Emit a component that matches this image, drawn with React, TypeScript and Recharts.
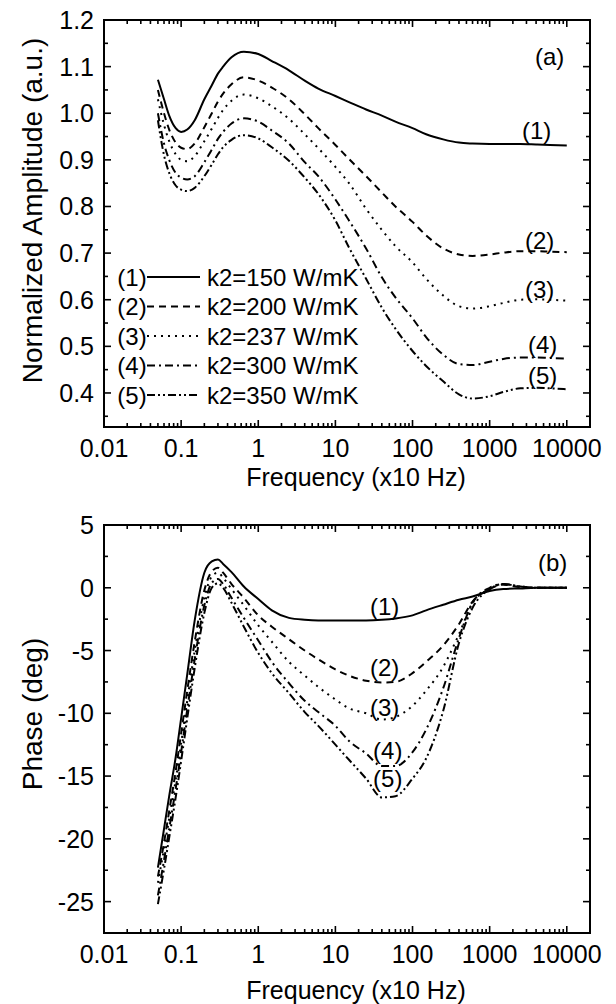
import React from "react";
import { ComposedChart, Line, Scatter, XAxis, YAxis, ReferenceLine, Legend } from "recharts";

const FONT = "'Liberation Sans', Arial, Helvetica, sans-serif";

// frequency in units of x10 Hz
const freq = [0.05, 0.06, 0.07, 0.085, 0.1, 0.12, 0.15, 0.2, 0.25, 0.3, 0.35, 0.45, 0.65, 1, 1.5, 2.5, 4, 6, 10, 15, 25, 40, 60, 100, 150, 250, 400, 600, 1000, 1500, 2500, 4000, 6000, 10000];

// (a) normalized amplitude
const ampK150 = [1.072, 1.03, 0.995, 0.968, 0.96, 0.965, 0.985, 1.03, 1.06, 1.085, 1.1, 1.12, 1.132, 1.127, 1.112, 1.092, 1.07, 1.053, 1.037, 1.024, 1.008, 0.995, 0.982, 0.968, 0.955, 0.944, 0.937, 0.935, 0.934, 0.934, 0.934, 0.933, 0.932, 0.931];
const ampK200 = [1.05, 1.0, 0.965, 0.937, 0.926, 0.923, 0.935, 0.97, 1.0, 1.025, 1.042, 1.062, 1.077, 1.07, 1.055, 1.03, 0.998, 0.968, 0.932, 0.902, 0.865, 0.83, 0.8, 0.767, 0.738, 0.71, 0.697, 0.694, 0.697, 0.701, 0.704, 0.704, 0.703, 0.702];
const ampK237 = [1.03, 0.975, 0.94, 0.912, 0.9, 0.897, 0.908, 0.94, 0.967, 0.99, 1.007, 1.027, 1.04, 1.032, 1.015, 0.988, 0.955, 0.925, 0.885, 0.85, 0.795, 0.75, 0.715, 0.68, 0.645, 0.609, 0.586, 0.581, 0.586, 0.593, 0.6, 0.601, 0.6, 0.598];
const ampK300 = [1.0, 0.935, 0.9, 0.872, 0.862, 0.858, 0.865, 0.895, 0.922, 0.945, 0.96, 0.978, 0.989, 0.982, 0.963, 0.935, 0.895, 0.865, 0.815, 0.77, 0.71, 0.648, 0.605, 0.56, 0.52, 0.482, 0.462, 0.46, 0.467, 0.473, 0.476, 0.476, 0.475, 0.474];
const ampK350 = [0.985, 0.91, 0.872, 0.845, 0.836, 0.833, 0.84, 0.865, 0.89, 0.912, 0.927, 0.943, 0.953, 0.946, 0.927, 0.898, 0.862, 0.827, 0.77, 0.712, 0.645, 0.583, 0.538, 0.49, 0.458, 0.425, 0.397, 0.388, 0.393, 0.402, 0.41, 0.411, 0.41, 0.408];

// (b) phase in degrees
const phK150 = [-22.3, -19.2, -16.6, -13.5, -10.4, -6.9, -2.6, 1.2, 2.1, 2.25, 1.9, 1.25, 0.1, -0.9, -1.8, -2.4, -2.55, -2.6, -2.6, -2.6, -2.6, -2.55, -2.45, -2.2, -1.8, -1.35, -0.95, -0.7, -0.25, -0.1, -0.05, 0, 0, 0];
const phK200 = [-23.0, -20.3, -17.8, -14.6, -11.6, -8.2, -4.3, -0.2, 1.3, 1.6, 1.2, 0.3, -0.8, -2.2, -3.1, -4.1, -5.0, -5.7, -6.5, -7.0, -7.4, -7.55, -7.5, -6.8, -5.9, -4.6, -2.9, -1.1, -0.1, 0.25, 0.05, 0, 0, 0];
const phK237 = [-23.5, -20.8, -18.4, -15.3, -12.4, -9.0, -5.0, -0.8, 0.9, 1.2, 0.8, -0.1, -1.4, -3.0, -4.3, -5.9, -7.0, -7.9, -8.9, -9.6, -10.0, -10.5, -10.3, -9.4, -8.2, -6.3, -3.7, -1.2, -0.1, 0.3, 0.1, 0, 0, 0];
const phK300 = [-24.5, -21.7, -19.2, -16.0, -13.1, -9.7, -5.7, -1.4, 0.4, 0.7, 0.3, -0.8, -2.4, -4.2, -5.9, -7.6, -9.0, -9.9, -11.0, -12.2, -13.2, -14.2, -14.2, -13.1, -11.3, -8.0, -4.0, -1.2, 0, 0.3, 0.1, 0, 0, 0];
const phK350 = [-25.2, -22.4, -19.9, -16.7, -13.8, -10.4, -6.4, -2.0, 0.0, 0.35, 0.0, -1.2, -3.1, -5.2, -6.8, -8.4, -9.9, -11.0, -12.5, -13.7, -15.2, -16.7, -16.6, -15.2, -13.6, -9.8, -4.4, -1.6, -0.1, 0.3, 0.1, 0, 0, 0];

const seriesNames = ["k2=150 W/mK", "k2=200 W/mK", "k2=237 W/mK", "k2=300 W/mK", "k2=350 W/mK"];
const seriesTags = ["(1)", "(2)", "(3)", "(4)", "(5)"];
const seriesKeys = ["k150", "k200", "k237", "k300", "k350"];
const dashes = [undefined, "7 5", "2 5", "8 4 2 4", "8 3 2 3 2 3"];

const xMajor = [0.01, 0.1, 1, 10, 100, 1000, 10000];
const xLabels = ["0.01", "0.1", "1", "10", "100", "1000", "10000"];
const xMinor = xMajor.slice(0, -1).flatMap((d) => [2, 3, 4, 5, 6, 7, 8, 9].map((m) => d * m));
const xTicks = [...xMajor, ...xMinor];
const xDomain = [0.01, 20000];

const yMajorA = [0.4, 0.5, 0.6, 0.7, 0.8, 0.9, 1.0, 1.1, 1.2];
const yMinorA = [0.35, 0.45, 0.55, 0.65, 0.75, 0.85, 0.95, 1.05, 1.15];
const yMajorB = [5, 0, -5, -10, -15, -20, -25];
const yMinorB = [2.5, -2.5, -7.5, -12.5, -17.5, -22.5];

// curve labels
const labelsA = [
  { f: 4064, y: 0.964, t: "(1)" }, { f: 4446, y: 0.728, t: "(2)" }, { f: 4446, y: 0.621, t: "(3)" },
  { f: 4864, y: 0.503, t: "(4)" }, { f: 4864, y: 0.438, t: "(5)" }, { f: 5984, y: 1.121, t: "(a)" },
];
const labelsB = [
  { f: 43.6, y: -1.5, t: "(1)" }, { f: 43.6, y: -6.35, t: "(2)" }, { f: 43.6, y: -9.5, t: "(3)" },
  { f: 47.7, y: -13.0, t: "(4)" }, { f: 47.7, y: -15.2, t: "(5)" }, { f: 6546, y: 2.0, t: "(b)" },
];

const ampData = freq.map((f, i) => ({ f, k150: ampK150[i], k200: ampK200[i], k237: ampK237[i], k300: ampK300[i], k350: ampK350[i] }));
const phData = freq.map((f, i) => ({ f, k150: phK150[i], k200: phK200[i], k237: phK237[i], k300: phK300[i], k350: phK350[i] }));

const CHART_W = 616;
const LEFT_W = 104;
const RIGHT_M = 26;
const PLOT_R = CHART_W - RIGHT_M;

function XTick(props: any) {
  const { x, y, payload } = props;
  const idx = xMajor.indexOf(payload.value);
  if (idx < 0) return <g />;
  return (
    <text x={x} y={y + 30} textAnchor="middle" fontSize={25} fontFamily={FONT} fill="#000">
      {xLabels[idx]}
    </text>
  );
}

function YTick(props: any) {
  const { x, y, payload, majors, fmt } = props;
  if (majors.indexOf(payload.value) < 0) return <g />;
  return (
    <text x={x - 10} y={y + 9} textAnchor="end" fontSize={25} fontFamily={FONT} fill="#000">
      {fmt(payload.value)}
    </text>
  );
}

// plot frame with inward ticks on all four sides, laid over the chart
function Frame({ width, height, top, bottom, yDomain, yMajor, yMinor }: any) {
  const lx0 = Math.log10(xDomain[0]);
  const lx1 = Math.log10(xDomain[1]);
  const sx = (f: number) => LEFT_W + ((Math.log10(f) - lx0) / (lx1 - lx0)) * (PLOT_R - LEFT_W);
  const sy = (v: number) => top + ((yDomain[1] - v) / (yDomain[1] - yDomain[0])) * (bottom - top);
  return (
    <svg width={width} height={height} style={{ position: "absolute", left: 0, top: 0, pointerEvents: "none" }}>
      <rect x={LEFT_W} y={top} width={PLOT_R - LEFT_W} height={bottom - top} fill="none" stroke="#000" strokeWidth={2} />
      <g stroke="#000" strokeWidth={1.6}>
        {xTicks.map((f) => {
          const len = xMajor.indexOf(f) >= 0 ? 7 : 4;
          const x = sx(f);
          return (
            <g key={"x" + f}>
              <line x1={x} y1={bottom} x2={x} y2={bottom - len} />
              <line x1={x} y1={top} x2={x} y2={top + len} />
            </g>
          );
        })}
        {[...yMajor, ...yMinor].map((v: number) => {
          const len = yMajor.indexOf(v) >= 0 ? 7 : 4;
          const y = sy(v);
          return (
            <g key={"y" + v}>
              <line x1={LEFT_W} y1={y} x2={LEFT_W + len} y2={y} />
              <line x1={PLOT_R} y1={y} x2={PLOT_R - len} y2={y} />
            </g>
          );
        })}
      </g>
    </svg>
  );
}

function LabelMark(props: any) {
  const { cx, cy, payload } = props;
  return (
    <text x={cx} y={cy + 8.5} textAnchor="middle" fontSize={24} fontFamily={FONT} fill="#000">
      {payload.t}
    </text>
  );
}

function LegendBox() {
  return (
    <svg width={260} height={150}>
      {seriesNames.map((name, i) => {
        const cy = 15 + i * 29.5;
        return (
          <g key={name}>
            <text x={22} y={cy + 8.5} textAnchor="middle" fontSize={24} fontFamily={FONT} fill="#000">{seriesTags[i]}</text>
            <line x1={37} y1={cy} x2={90} y2={cy} stroke="#000" strokeWidth={2} strokeDasharray={dashes[i]} />
            <text x={97} y={cy + 8.5} fontSize={24} fontFamily={FONT} fill="#000">{name}</text>
          </g>
        );
      })}
    </svg>
  );
}

function xTitle(dy: number) {
  return (p: any) => {
    const vb = p.viewBox || { x: 104, y: 0, width: 486 };
    return (
      <text x={vb.x + vb.width / 2 + 9} y={vb.y + dy} textAnchor="middle" fontSize={25} fontFamily={FONT} fill="#000">
        Frequency (x10 Hz)
      </text>
    );
  };
}

function yTitle(text: string, shift: number) {
  return (p: any) => {
    const vb = p.viewBox || { x: 0, y: 0, width: 104, height: 400 };
    const cy = vb.y + vb.height / 2 + shift;
    return (
      <text x={42} y={cy} transform={`rotate(-90 42 ${cy})`} textAnchor="middle" fontSize={28} fontFamily={FONT} fill="#000">
        {text}
      </text>
    );
  };
}

function Panel({ data, height, top, xAxisH, yDomain, yMajor, yMinor, fmt, yLabel, yShift, titleDy, labels, legend }: any) {
  const yTicks = [...yMajor, ...yMinor];
  return (
    <div style={{ position: "relative", width: CHART_W, height }}>
      <ComposedChart width={CHART_W} height={height} data={data} margin={{ top, right: RIGHT_M, left: 0, bottom: 0 }}>
        <XAxis dataKey="f" type="number" scale="log" domain={xDomain} allowDataOverflow ticks={xTicks} interval={0}
          height={xAxisH} tickSize={0} tickMargin={0} axisLine={{ stroke: "#000", strokeWidth: 2 }} tickLine={false}
          tick={XTick} label={{ content: xTitle(titleDy) }} />
        <YAxis type="number" domain={yDomain} allowDataOverflow ticks={yTicks} interval={0} width={LEFT_W} tickSize={0} tickMargin={0}
          axisLine={{ stroke: "#000", strokeWidth: 2 }} tickLine={false}
          tick={(p: any) => <YTick {...p} majors={yMajor} fmt={fmt} />}
          label={{ content: yTitle(yLabel, yShift) }} />
        <ReferenceLine y={yDomain[1]} stroke="#000" strokeWidth={2} />
        <ReferenceLine x={xDomain[1]} stroke="#000" strokeWidth={2} />
        {seriesKeys.map((k, i) => (
          <Line key={k} dataKey={k} name={seriesNames[i]} type="monotone" stroke="#000" strokeWidth={2}
            strokeDasharray={dashes[i]} dot={false} activeDot={false} isAnimationActive={false} />
        ))}
        <Scatter data={labels} dataKey="y" legendType="none" shape={LabelMark} isAnimationActive={false} />
        {legend && (
          <Legend layout="vertical" align="center" verticalAlign="middle" content={LegendBox}
            wrapperStyle={{ left: 110, top: 262, width: 260, height: 150 }} />
        )}
      </ComposedChart>
      <Frame width={CHART_W} height={height} top={top} bottom={height - xAxisH} yDomain={yDomain} yMajor={yMajor} yMinor={yMinor} />
    </div>
  );
}

export default function App() {
  return (
    <div style={{ width: 616, height: 1004, background: "#fff", fontFamily: FONT }}>
      <style>{"body{margin:0;background:#fff}"}</style>
      <Panel data={ampData} height={500} top={20} xAxisH={73} yDomain={[0.327, 1.2]} yMajor={yMajorA} yMinor={yMinorA}
        fmt={(v: number) => v.toFixed(1)} yLabel="Normalized Amplitude (a.u.)" yShift={-13} titleDy={59} labels={labelsA} legend />
      <Panel data={phData} height={504} top={25} xAxisH={71} yDomain={[-27.5, 5]} yMajor={yMajorB} yMinor={yMinorB}
        fmt={(v: number) => String(v)} yLabel="Phase (deg)" yShift={-15} titleDy={66} labels={labelsB} legend={false} />
    </div>
  );
}
